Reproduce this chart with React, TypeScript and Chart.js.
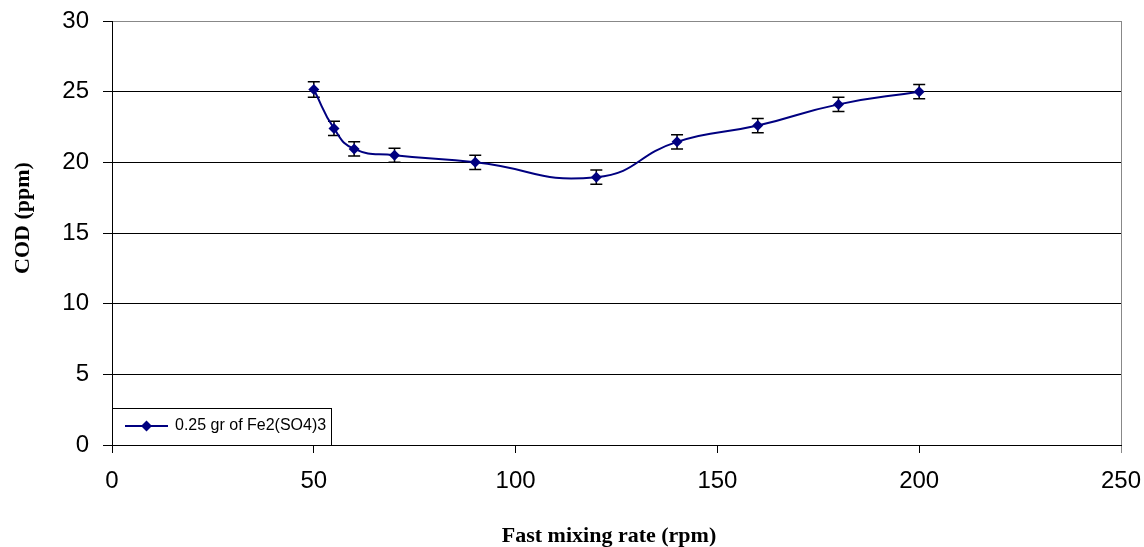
import React, { useEffect, useRef } from "react";
import { Chart, registerables } from "chart.js";

Chart.register(...registerables);

const rpm = [50, 55, 60, 70, 90, 120, 140, 160, 180, 200];
const cod = [25.15, 22.4, 20.95, 20.5, 20.0, 18.95, 21.45, 22.6, 24.1, 25.0];
const codErr = [0.55, 0.5, 0.5, 0.5, 0.5, 0.5, 0.5, 0.5, 0.5, 0.5];
const seriesLabel = "0.25 gr of Fe2(SO4)3";
const xTitle = "Fast mixing rate (rpm)";
const yTitle = "COD (ppm)";
const xMin = 0, xMax = 250, xStep = 50;
const yMin = 0, yMax = 30, yStep = 5;

const NAVY = "#000080";

const errorBarPlugin = {
  id: "errorBars",
  beforeDatasetsDraw(chart: any) {
    const { ctx, scales } = chart;
    const xs = scales.x, ys = scales.y;
    ctx.save();
    ctx.strokeStyle = "#000";
    ctx.lineWidth = 1.5;
    rpm.forEach((xv, i) => {
      const px = xs.getPixelForValue(xv);
      const top = ys.getPixelForValue(cod[i] + codErr[i]);
      const bot = ys.getPixelForValue(cod[i] - codErr[i]);
      ctx.beginPath();
      ctx.moveTo(px, top);
      ctx.lineTo(px, bot);
      ctx.moveTo(px - 6, top);
      ctx.lineTo(px + 6, top);
      ctx.moveTo(px - 6, bot);
      ctx.lineTo(px + 6, bot);
      ctx.stroke();
    });
    ctx.restore();
  },
};

const decorPlugin = {
  id: "decor",
  afterDraw(chart: any) {
    const { ctx, chartArea } = chart;
    ctx.save();
    // legend box
    const lx = chartArea.left, ly = 408, lw = 219, lh = chartArea.bottom - 408;
    ctx.fillStyle = "#fff";
    ctx.fillRect(lx, ly, lw, lh);
    ctx.strokeStyle = "#000";
    ctx.lineWidth = 1;
    ctx.strokeRect(Math.round(lx) + 0.5, ly + 0.5, lw, lh);
    const cy = 426;
    ctx.strokeStyle = NAVY;
    ctx.lineWidth = 2;
    ctx.beginPath();
    ctx.moveTo(125, cy);
    ctx.lineTo(168, cy);
    ctx.stroke();
    ctx.fillStyle = NAVY;
    ctx.beginPath();
    ctx.moveTo(146.5, cy - 5.5);
    ctx.lineTo(152, cy);
    ctx.lineTo(146.5, cy + 5.5);
    ctx.lineTo(141, cy);
    ctx.closePath();
    ctx.fill();
    ctx.fillStyle = "#000";
    ctx.font = "16px 'Liberation Sans', Arial, sans-serif";
    ctx.textBaseline = "middle";
    ctx.textAlign = "left";
    ctx.fillText(seriesLabel, 175, cy);
    // axis titles
    ctx.font = "bold 22px 'Liberation Serif', 'Times New Roman', serif";
    ctx.textAlign = "center";
    ctx.fillText(xTitle, 609, 536);
    ctx.translate(23, 218);
    ctx.rotate(-Math.PI / 2);
    ctx.fillText(yTitle, 0, 0);
    ctx.restore();
  },
};

export default function App() {
  const ref = useRef<HTMLCanvasElement>(null);
  useEffect(() => {
    if (!ref.current) return;
    const chart = new Chart(ref.current, {
      type: "line",
      data: {
        datasets: [
          {
            label: seriesLabel,
            data: rpm.map((x, i) => ({ x, y: cod[i] })),
            borderColor: NAVY,
            backgroundColor: NAVY,
            borderWidth: 2,
            tension: 0.5,
            pointStyle: "rectRot",
            pointRadius: 5.5,
            pointBackgroundColor: NAVY,
            pointBorderColor: NAVY,
            pointBorderWidth: 0,
            fill: false,
          },
        ],
      },
      plugins: [errorBarPlugin, decorPlugin],
      options: {
        animation: false,
        responsive: false,
        maintainAspectRatio: false,
        layout: { padding: { left: 0, top: 21, right: 23, bottom: 0 } },
        plugins: { legend: { display: false }, tooltip: { enabled: false } },
        scales: {
          x: {
            type: "linear",
            min: xMin,
            max: xMax,
            ticks: {
              stepSize: xStep,
              color: "#000",
              padding: 14,
              font: { family: "'Liberation Sans', Arial, sans-serif", size: 24 },
            },
            grid: {
              color: (c: any) => (c.tick && c.tick.value === xMax ? "#888" : "rgba(0,0,0,0)"),
              tickColor: (c: any) => (c.tick && c.tick.value === xMax ? "#888" : "#000"),
              tickLength: 8,
              lineWidth: 1,
            },
            border: { color: "#000", width: 1 },
            afterFit: (s: any) => {
              s.height = 102;
              s.paddingLeft = 0;
              s.paddingRight = 0;
              s.paddingTop = 0;
              s.paddingBottom = 0;
            },
          },
          y: {
            min: yMin,
            max: yMax,
            ticks: {
              stepSize: yStep,
              color: "#000",
              padding: 14,
              font: { family: "'Liberation Sans', Arial, sans-serif", size: 24 },
            },
            grid: {
              color: (c: any) => (c.tick && c.tick.value === yMax ? "#888" : "#000"),
              tickColor: "#000",
              tickLength: 9,
              lineWidth: 1,
            },
            border: { color: "#000", width: 1 },
            afterFit: (s: any) => {
              s.width = 112;
              s.paddingLeft = 0;
              s.paddingRight = 0;
              s.paddingTop = 0;
              s.paddingBottom = 0;
            },
          },
        },
      },
    });
    return () => chart.destroy();
  }, []);
  return (
    <div style={{ position: "absolute", left: 0, top: 0, width: 1144, height: 547, background: "#fff" }}>
      <canvas ref={ref} width={1144} height={547} style={{ width: 1144, height: 547, display: "block" }} />
    </div>
  );
}
